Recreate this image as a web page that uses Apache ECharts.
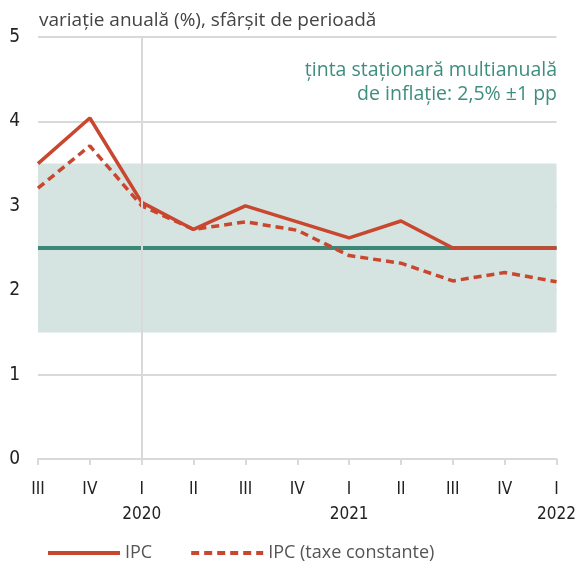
<!DOCTYPE html>
<html>
<head>
<meta charset="utf-8">
<script src="https://cdn.jsdelivr.net/npm/echarts@6/dist/echarts.min.js"></script>
<style>
  html, body { margin: 0; padding: 0; background: #fff; }
  #chart { width: 579px; height: 563px; }
</style>
</head>
<body>
<div id="chart"></div>
<script>
// trimestre si ani
const quarters = ['III', 'IV', 'I', 'II', 'III', 'IV', 'I', 'II', 'III', 'IV', 'I'];
const years = ['', '', '2020', '', '', '', '2021', '', '', '', '2022'];

// variatie anuala (%)
const ipc = [3.5, 4.04, 3.04, 2.72, 3.0, 2.81, 2.62, 2.82, 2.5, 2.5, 2.5];
const ipcTaxe = [3.21, 3.71, 3.0, 2.72, 2.81, 2.71, 2.41, 2.32, 2.11, 2.21, 2.1];

// tinta de inflatie
const target = 2.5;
const targetBand = [1.5, 3.5];

const red = '#C9462F';
const teal = '#3A8677';
const font = "'DejaVu Sans Condensed', 'Liberation Sans Narrow', sans-serif";
const textFont = "'Open Sans', sans-serif";
const noteStyle = { fontFamily: textFont, fontSize: 19.5, fill: '#3E8E7E' };

let chart = echarts.init(document.getElementById('chart'));
chart.setOption({
  animation: false,
  grid: { left: 38, right: 22, top: 37, bottom: 104 },
  legend: {
    top: 539,
    left: 41,
    itemWidth: 72,
    itemHeight: 4,
    itemGap: 37,
    data: ['IPC', 'IPC (taxe constante)'],
    itemStyle: { opacity: 0 },
    lineStyle: { width: 4 },
    textStyle: { fontFamily: textFont, fontSize: 18, color: '#555' }
  },
  graphic: [
    {
      type: 'text', left: 39, top: 11,
      style: { text: 'variație anuală (%), sfârșit de perioadă', fontFamily: textFont, fontSize: 19, fill: '#444' }
    },
    {
      type: 'text', right: 22, top: 60,
      style: Object.assign({ text: 'ținta staționară multianuală' }, noteStyle)
    },
    {
      type: 'text', right: 22, top: 84,
      style: Object.assign({ text: 'de inflație: 2,5% ±1 pp' }, noteStyle)
    }
  ],
  xAxis: {
    type: 'category',
    boundaryGap: false,
    data: quarters,
    axisLine: { lineStyle: { color: '#d9d9d9', width: 2 } },
    axisTick: { show: true, length: 6, lineStyle: { color: '#d9d9d9', width: 2 } },
    axisLabel: {
      margin: 18,
      interval: 0,
      fontFamily: font,
      fontSize: 17,
      color: '#222',
      lineHeight: 25,
      formatter: (v, i) => years[i] ? v + '\n' + years[i] : v
    },
    splitLine: { show: false }
  },
  yAxis: {
    type: 'value',
    min: 0,
    max: 5,
    interval: 1,
    axisLine: { show: false },
    axisTick: { show: false },
    axisLabel: { margin: 18, fontFamily: font, fontSize: 19, color: '#222' },
    splitLine: { lineStyle: { color: '#d9d9d9', width: 2 } }
  },
  series: [
    {
      name: 'tinta',
      type: 'line',
      data: quarters.map(() => target),
      symbol: 'none',
      lineStyle: { color: teal, width: 4 },
      z: 1,
      silent: true,
      markArea: {
        silent: true,
        itemStyle: { color: '#D5E4E0' },
        data: [[{ yAxis: targetBand[0] }, { yAxis: targetBand[1] }]]
      },
      markLine: {
        silent: true,
        symbol: 'none',
        label: { show: false },
        lineStyle: { color: '#d9d9d9', width: 2, type: 'solid' },
        data: [{ xAxis: 2 }]
      }
    },
    {
      name: 'IPC (taxe constante)',
      type: 'line',
      data: ipcTaxe,
      symbol: 'none',
      color: red,
      lineStyle: { color: red, width: 3.5, type: [8, 5] },
      z: 3
    },
    {
      name: 'IPC',
      type: 'line',
      data: ipc,
      symbol: 'none',
      color: red,
      lineStyle: { color: red, width: 3.5 },
      z: 4
    }
  ]
});
window.addEventListener('resize', function () {
  chart.resize();
});
</script>
</body>
</html>
